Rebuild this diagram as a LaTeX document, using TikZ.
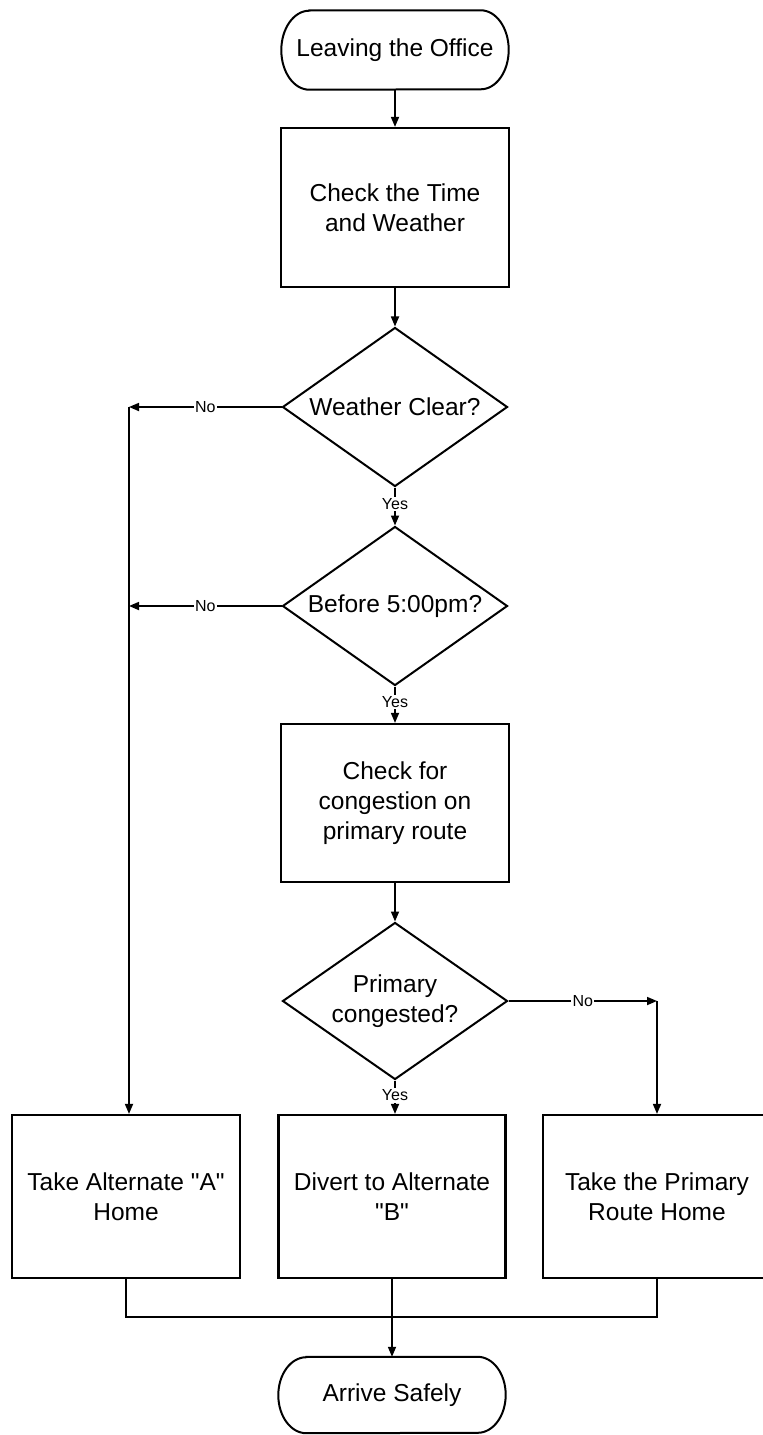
\documentclass[tikz,border=0pt]{standalone}
\usepackage{fontspec}
\setmainfont{Liberation Sans}[Ligatures=TeXOff]
\usetikzlibrary{shapes.geometric,arrows.meta}
\begin{document}
\begin{tikzpicture}[x=1pt,y=1pt,
  every node/.style={font=\fontsize{24.5}{30}\selectfont, align=center, inner sep=0pt},
  procbox/.style={draw, line width=2.2pt, minimum width=228pt, minimum height=159pt},
  decision/.style={draw, diamond, line width=2pt, minimum width=225pt, minimum height=159pt, aspect=1.41},
  termbox/.style={minimum width=227pt},
  termline/.style={line width=2pt},
  flow/.style={line width=1.7pt, -{Triangle[length=10pt,width=8pt]}},
  link/.style={line width=1.7pt},
  branch/.style={font=\fontsize{16}{18}\selectfont, fill=white, inner sep=1.5pt},
]
\useasboundingbox (0,0) rectangle (763,-1435);
\clip (0,0) rectangle (763,-1435);
\fill[white] (0,0) rectangle (763,-1435);

% terminals
\node[termbox, minimum height=79pt] (start) at (395,-50) {Leaving the Office};
\draw[termline] ([xshift=28pt]start.north west) -- ([xshift=-28pt]start.north east)
  arc[start angle=90, end angle=-90, x radius=28pt, y radius=39.5pt]
  -- ([xshift=28pt]start.south west)
  arc[start angle=270, end angle=90, x radius=28pt, y radius=39.5pt] -- cycle;

\node[termbox, minimum height=76pt] (arrive) at (392,-1395) {Arrive Safely};
\draw[termline] ([xshift=28pt]arrive.north west) -- ([xshift=-28pt]arrive.north east)
  arc[start angle=90, end angle=-90, x radius=28pt, y radius=38pt]
  -- ([xshift=28pt]arrive.south west)
  arc[start angle=270, end angle=90, x radius=28pt, y radius=38pt] -- cycle;

% process steps and decisions
\node[procbox] (chk) at (395,-207.5) {Check the Time\\and Weather};
\node[decision] (d1) at (395,-407) {Weather Clear?};
\node[decision] (d2) at (395,-606) {Before 5:00pm?};
\node[procbox, minimum height=158pt] (cong) at (395,-803) {Check for\\congestion on\\primary route};
\node[decision, minimum height=157pt] (d3) at (395,-1001) {Primary\\congested?};

\node[procbox, minimum height=163pt] (altA) at (126,-1196.5) {Take Alternate "A"\\Home};
\node[procbox, minimum height=163pt, minimum width=227pt] (altB) at (392,-1196.5) {Divert to Alternate\\"B"};
\node[procbox, minimum height=163pt] (prim) at (657,-1196.5) {Take the Primary\\Route Home};

% corner points of the side branches
\coordinate (lc1) at (129,-407);
\coordinate (lc2) at (129,-606);
\coordinate (rc) at (657,-1001);
\coordinate (jn) at (126,-1317);

% main column
\draw[flow] (start) -- (chk);
\draw[flow] (chk) -- (d1);
\draw[flow] (d1.south) -- node[branch, pos=0.43] {Yes} (d2.north);
\draw[flow] (d2.south) -- node[branch, pos=0.43] {Yes} (cong.north);
\draw[flow] (cong) -- (d3);
\draw[flow] (d3.south) -- node[branch, pos=0.45] {Yes} (d3.south |- altB.north);

% "No" branches
\draw[flow] (d1.west) -- node[branch] {No} (lc1);
\draw[flow] (d2.west) -- node[branch] {No} (lc2);
\draw[flow] (lc1) -- (lc1 |- altA.north);
\draw[flow] (d3.east) -- node[branch] {No} (rc);
\draw[flow] (rc) -- (prim.north);

% merge into the final terminal
\draw[link] (altA.south) -- (jn) -| (prim.south);
\draw[flow] (altB.south) -- (arrive.north);
\end{tikzpicture}
\end{document}
